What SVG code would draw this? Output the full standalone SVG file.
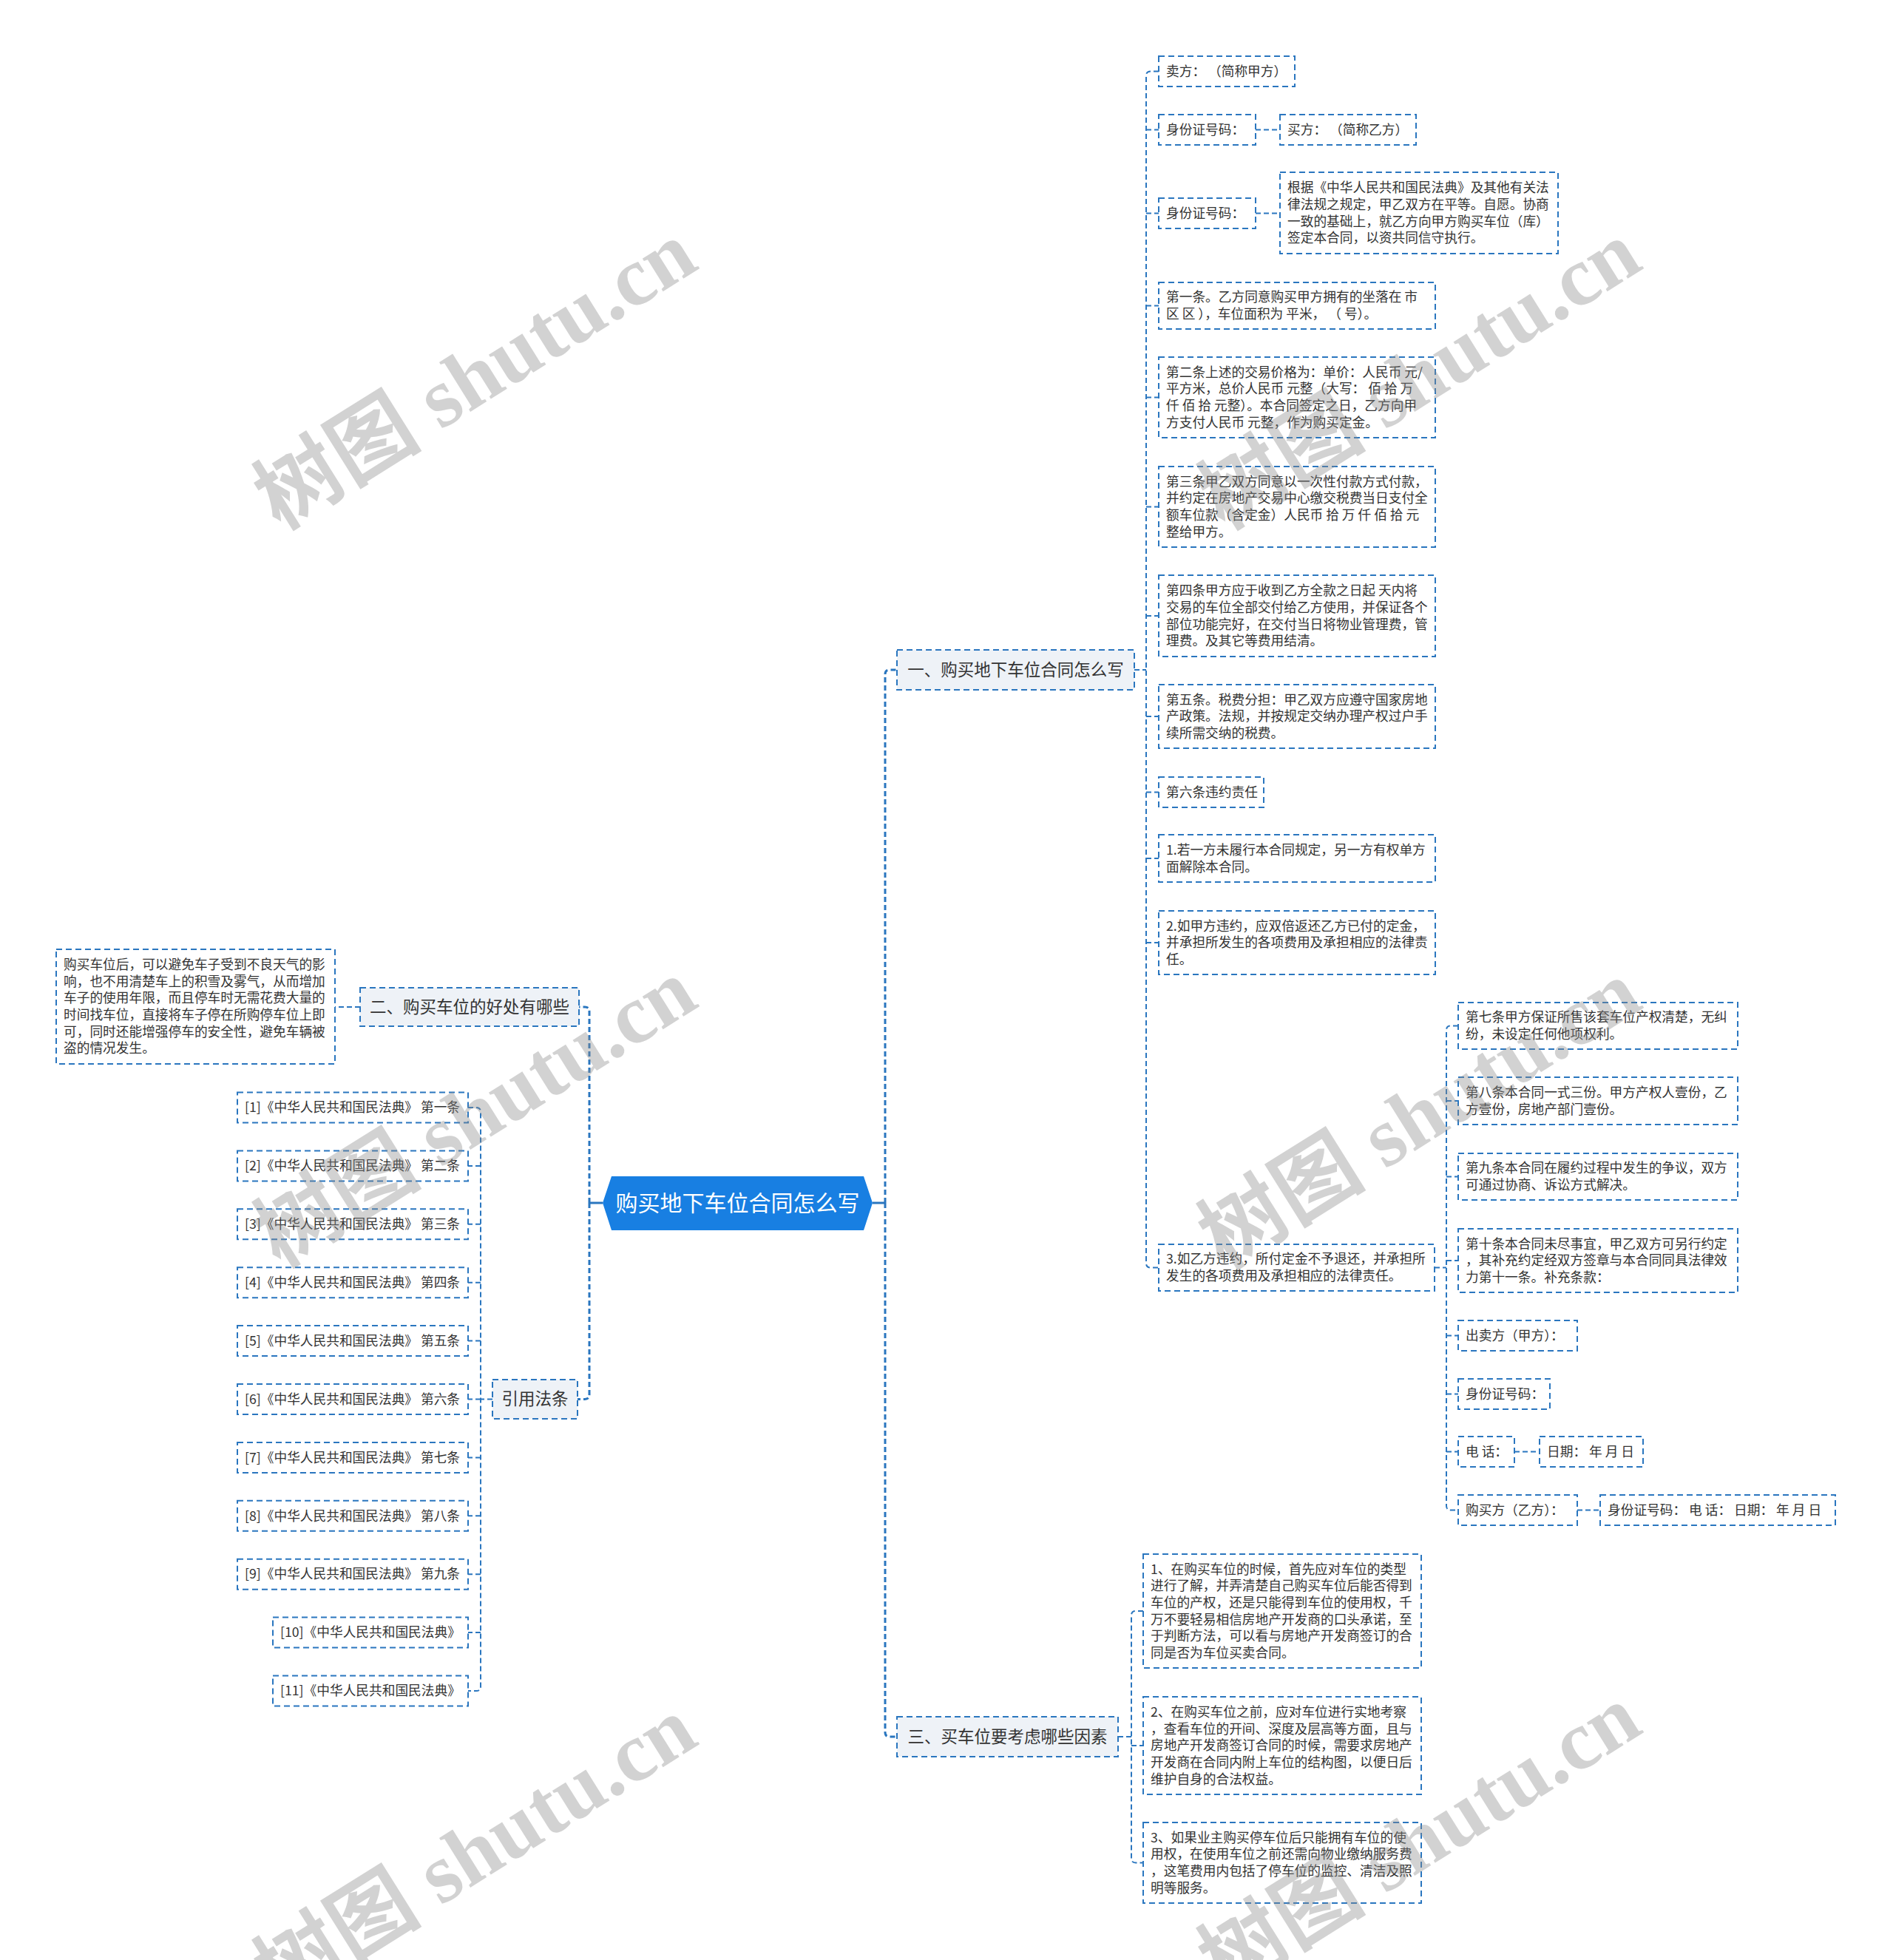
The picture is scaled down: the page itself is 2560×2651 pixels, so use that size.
<svg xmlns="http://www.w3.org/2000/svg" width="2560" height="2651" viewBox="0 0 2560 2651">
<style>
.bx{fill:#fff;stroke:#2a76bf;stroke-width:2;stroke-dasharray:8 5}
.l1{fill:#eef2f7;stroke:#2a76bf;stroke-width:2;stroke-dasharray:8 5}
.t{font-family:"Noto Sans CJK SC","Microsoft YaHei",sans-serif;font-size:17.7px;fill:#333}
.t1{font-family:"Noto Sans CJK SC","Microsoft YaHei",sans-serif;font-size:22.5px;fill:#333;text-anchor:middle}
.c{fill:none;stroke:#2a76bf;stroke-width:2;stroke-dasharray:7 4}
.m{fill:none;stroke:#2a76bf;stroke-width:3;stroke-dasharray:7 4}
.ms{fill:none;stroke:#2a76bf;stroke-width:3}
.wm{font-family:"Liberation Serif","Noto Sans CJK SC",serif;font-size:114px;font-weight:bold;fill:#888;fill-opacity:0.38;text-anchor:middle}
</style>
<rect width="2560" height="2651" fill="#fff"/>
<g id="connectors">
<path class="ms" d="M815,1627 H797"/>
<path class="ms" d="M1180,1627 H1197"/>
<path class="m" d="M797,1627 V1368 Q797,1362 791,1362 H783"/>
<path class="m" d="M797,1627 V1886.5 Q797,1892.5 791,1892.5 H781"/>
<path class="m" d="M1197,1627 V912 Q1197,906 1203,906 H1213"/>
<path class="m" d="M1197,1627 V2343 Q1197,2349 1203,2349 H1213"/>
<path class="c" d="M1534,906 H1550"/>
<path class="c" d="M1567,96.5 H1556 Q1550,96.5 1550,102.5 V1708.5 Q1550,1714.5 1556,1714.5 H1566"/>
<path class="c" d="M1550,175.5 H1567 M1550,288.5 H1567 M1550,413.5 H1567 M1550,537.5 H1567 M1550,685.5 H1567 M1550,833 H1567 M1550,969 H1567 M1550,1071.5 H1567 M1550,1161 H1567 M1550,1275 H1567"/>
<path class="c" d="M1698,175.5 H1731 M1698,288.5 H1731"/>
<path class="c" d="M1940,1714.5 H1956"/>
<path class="c" d="M1972,1387.5 H1962 Q1956,1387.5 1956,1393.5 V2036.5 Q1956,2042.5 1962,2042.5 H1972"/>
<path class="c" d="M1956,1489 H1972 M1956,1591.5 H1972 M1956,1705 H1972 M1956,1806.5 H1972 M1956,1885.5 H1972 M1956,1963.5 H1972"/>
<path class="c" d="M2048,1963.5 H2082 M2133,2042.5 H2164"/>
<path class="c" d="M1512,2349 H1530"/>
<path class="c" d="M1546,2179 H1536 Q1530,2179 1530,2185 V2513.5 Q1530,2519.5 1536,2519.5 H1546"/>
<path class="c" d="M1530,2361 H1546"/>
<path class="c" d="M487,1362 H453"/>
<path class="c" d="M666,1892.5 H650"/>
<path class="c" d="M633,1498 H644 Q650,1498 650,1504 V2281 Q650,2287 644,2287 H633"/>
<path class="c" d="M650,1576.9 H633 M650,1655.8 H633 M650,1734.7 H633 M650,1813.6 H633 M650,1892.5 H633 M650,1971.4 H633 M650,2050.3 H633 M650,2129.2 H633 M650,2208.1 H633"/>
</g>
<g id="root">
<polygon points="815,1627 827,1591 1168,1591 1180,1627 1168,1664 827,1664" fill="#187fe2"/>
<text x="997.5" y="1638" font-family="Noto Sans CJK SC, sans-serif" font-size="30" fill="#fff" text-anchor="middle">购买地下车位合同怎么写</text>
</g>
<g id="n1">
<rect class="l1" x="1213" y="879" width="321" height="54"/>
<text class="t1" x="1373.5" y="913.9">一、购买地下车位合同怎么写</text>
</g>
<g id="n1-1"><rect class="bx" x="1567" y="76" width="184" height="41"/><text class="t" x="1577" y="102.7">卖方： （简称甲方）</text></g>
<g id="n1-2"><rect class="bx" x="1567" y="155" width="131" height="41"/><text class="t" x="1577" y="181.7">身份证号码：</text></g>
<g id="n1-2-1"><rect class="bx" x="1731" y="155" width="184" height="41"/><text class="t" x="1741" y="181.7">买方： （简称乙方）</text></g>
<g id="n1-3"><rect class="bx" x="1567" y="268" width="131" height="41"/><text class="t" x="1577" y="294.7">身份证号码：</text></g>
<g id="n1-3-1"><rect class="bx" x="1731" y="233" width="376" height="110"/><text class="t" x="1741" y="260.2"><tspan x="1741">根据《中华人民共和国民法典》及其他有关法</tspan><tspan x="1741" dy="22.65">律法规之规定，甲乙双方在平等。自愿。协商</tspan><tspan x="1741" dy="22.65">一致的基础上，就乙方向甲方购买车位（库）</tspan><tspan x="1741" dy="22.65">签定本合同，以资共同信守执行。</tspan></text></g>
<g id="n1-4"><rect class="bx" x="1567" y="382" width="374" height="63"/><text class="t" x="1577" y="408.4"><tspan x="1577">第一条。乙方同意购买甲方拥有的坐落在 市</tspan><tspan x="1577" dy="22.65">区 区 ），车位面积为 平米， （ 号）。</tspan></text></g>
<g id="n1-5"><rect class="bx" x="1567" y="483" width="374" height="109"/><text class="t" x="1577" y="509.7"><tspan x="1577">第二条上述的交易价格为：单价：人民币 元/</tspan><tspan x="1577" dy="22.65">平方米，总价人民币 元整（大写： 佰 拾 万</tspan><tspan x="1577" dy="22.65">仟 佰 拾 元整）。本合同签定之日，乙方向甲</tspan><tspan x="1577" dy="22.65">方支付人民币 元整，作为购买定金。</tspan></text></g>
<g id="n1-6"><rect class="bx" x="1567" y="631" width="374" height="109"/><text class="t" x="1577" y="657.7"><tspan x="1577">第三条甲乙双方同意以一次性付款方式付款，</tspan><tspan x="1577" dy="22.65">并约定在房地产交易中心缴交税费当日支付全</tspan><tspan x="1577" dy="22.65">额车位款（含定金）人民币 拾 万 仟 佰 拾 元</tspan><tspan x="1577" dy="22.65">整给甲方。</tspan></text></g>
<g id="n1-7"><rect class="bx" x="1567" y="778" width="374" height="110"/><text class="t" x="1577" y="805.2"><tspan x="1577">第四条甲方应于收到乙方全款之日起 天内将</tspan><tspan x="1577" dy="22.65">交易的车位全部交付给乙方使用，并保证各个</tspan><tspan x="1577" dy="22.65">部位功能完好，在交付当日将物业管理费，管</tspan><tspan x="1577" dy="22.65">理费。及其它等费用结清。</tspan></text></g>
<g id="n1-8"><rect class="bx" x="1567" y="926" width="374" height="86"/><text class="t" x="1577" y="952.55"><tspan x="1577">第五条。税费分担：甲乙双方应遵守国家房地</tspan><tspan x="1577" dy="22.65">产政策。法规，并按规定交纳办理产权过户手</tspan><tspan x="1577" dy="22.65">续所需交纳的税费。</tspan></text></g>
<g id="n1-9"><rect class="bx" x="1567" y="1051" width="142" height="41"/><text class="t" x="1577" y="1077.7">第六条违约责任</text></g>
<g id="n1-10"><rect class="bx" x="1567" y="1129" width="374" height="64"/><text class="t" x="1577" y="1155.9"><tspan x="1577">1.若一方未履行本合同规定，另一方有权单方</tspan><tspan x="1577" dy="22.65">面解除本合同。</tspan></text></g>
<g id="n1-11"><rect class="bx" x="1567" y="1232" width="374" height="86"/><text class="t" x="1577" y="1258.55"><tspan x="1577">2.如甲方违约，应双倍返还乙方已付的定金，</tspan><tspan x="1577" dy="22.65">并承担所发生的各项费用及承担相应的法律责</tspan><tspan x="1577" dy="22.65">任。</tspan></text></g>
<g id="n1-12"><rect class="bx" x="1567" y="1683" width="373" height="63"/><text class="t" x="1577" y="1709.4"><tspan x="1577">3.如乙方违约，所付定金不予退还，并承担所</tspan><tspan x="1577" dy="22.65">发生的各项费用及承担相应的法律责任。</tspan></text></g>
<g id="n1-12-1"><rect class="bx" x="1972" y="1356" width="378" height="63"/><text class="t" x="1982" y="1382.4"><tspan x="1982">第七条甲方保证所售该套车位产权清楚，无纠</tspan><tspan x="1982" dy="22.65">纷，未设定任何他项权利。</tspan></text></g>
<g id="n1-12-2"><rect class="bx" x="1972" y="1457" width="378" height="64"/><text class="t" x="1982" y="1483.9"><tspan x="1982">第八条本合同一式三份。甲方产权人壹份，乙</tspan><tspan x="1982" dy="22.65">方壹份，房地产部门壹份。</tspan></text></g>
<g id="n1-12-3"><rect class="bx" x="1972" y="1560" width="378" height="63"/><text class="t" x="1982" y="1586.4"><tspan x="1982">第九条本合同在履约过程中发生的争议，双方</tspan><tspan x="1982" dy="22.65">可通过协商、诉讼方式解决。</tspan></text></g>
<g id="n1-12-4"><rect class="bx" x="1972" y="1662" width="378" height="86"/><text class="t" x="1982" y="1688.55"><tspan x="1982">第十条本合同未尽事宜，甲乙双方可另行约定</tspan><tspan x="1982" dy="22.65">，其补充约定经双方签章与本合同同具法律效</tspan><tspan x="1982" dy="22.65">力第十一条。补充条款：</tspan></text></g>
<g id="n1-12-5"><rect class="bx" x="1972" y="1786" width="161" height="41"/><text class="t" x="1982" y="1812.7">出卖方（甲方）：</text></g>
<g id="n1-12-6"><rect class="bx" x="1972" y="1865" width="124" height="41"/><text class="t" x="1982" y="1891.7">身份证号码：</text></g>
<g id="n1-12-7"><rect class="bx" x="1972" y="1943" width="76" height="41"/><text class="t" x="1982" y="1969.7">电 话：</text></g>
<g id="n1-12-7-1"><rect class="bx" x="2082" y="1943" width="140" height="41"/><text class="t" x="2092" y="1969.7">日期： 年 月 日</text></g>
<g id="n1-12-8"><rect class="bx" x="1972" y="2022" width="161" height="41"/><text class="t" x="1982" y="2048.7">购买方（乙方）：</text></g>
<g id="n1-12-8-1"><rect class="bx" x="2164" y="2022" width="318" height="41"/><text class="t" x="2174" y="2048.7">身份证号码： 电 话： 日期： 年 月 日</text></g>
<g id="n3">
<rect class="l1" x="1213" y="2322" width="299" height="54"/>
<text class="t1" x="1362.5" y="2356.9">三、买车位要考虑哪些因素</text>
</g>
<g id="n3-1"><rect class="bx" x="1546" y="2102" width="376" height="154"/><text class="t" x="1556" y="2128.6"><tspan x="1556">1、在购买车位的时候，首先应对车位的类型</tspan><tspan x="1556" dy="22.65">进行了解，并弄清楚自己购买车位后能否得到</tspan><tspan x="1556" dy="22.65">车位的产权，还是只能得到车位的使用权，千</tspan><tspan x="1556" dy="22.65">万不要轻易相信房地产开发商的口头承诺，至</tspan><tspan x="1556" dy="22.65">于判断方法，可以看与房地产开发商签订的合</tspan><tspan x="1556" dy="22.65">同是否为车位买卖合同。</tspan></text></g>
<g id="n3-2"><rect class="bx" x="1546" y="2295" width="376" height="132"/><text class="t" x="1556" y="2321.9"><tspan x="1556">2、在购买车位之前，应对车位进行实地考察</tspan><tspan x="1556" dy="22.65">，查看车位的开间、深度及层高等方面，且与</tspan><tspan x="1556" dy="22.65">房地产开发商签订合同的时候，需要求房地产</tspan><tspan x="1556" dy="22.65">开发商在合同内附上车位的结构图，以便日后</tspan><tspan x="1556" dy="22.65">维护自身的合法权益。</tspan></text></g>
<g id="n3-3"><rect class="bx" x="1546" y="2465" width="376" height="109"/><text class="t" x="1556" y="2491.7"><tspan x="1556">3、如果业主购买停车位后只能拥有车位的使</tspan><tspan x="1556" dy="22.65">用权，在使用车位之前还需向物业缴纳服务费</tspan><tspan x="1556" dy="22.65">，这笔费用内包括了停车位的监控、清洁及照</tspan><tspan x="1556" dy="22.65">明等服务。</tspan></text></g>
<g id="n2">
<rect class="l1" x="487" y="1336" width="296" height="52"/>
<text class="t1" x="635" y="1369.9">二、购买车位的好处有哪些</text>
</g>
<g id="n2-1"><rect class="bx" x="76" y="1284" width="377" height="155"/><text class="t" x="86" y="1311.1"><tspan x="86">购买车位后，可以避免车子受到不良天气的影</tspan><tspan x="86" dy="22.65">响，也不用清楚车上的积雪及雾气，从而增加</tspan><tspan x="86" dy="22.65">车子的使用年限，而且停车时无需花费大量的</tspan><tspan x="86" dy="22.65">时间找车位，直接将车子停在所购停车位上即</tspan><tspan x="86" dy="22.65">可，同时还能增强停车的安全性，避免车辆被</tspan><tspan x="86" dy="22.65">盗的情况发生。</tspan></text></g>
<g id="n4">
<rect class="l1" x="666" y="1866" width="115" height="53"/>
<text class="t1" x="723.5" y="1900.4">引用法条</text>
</g>
<g id="n4-1"><rect class="bx" x="321" y="1477.5" width="312" height="41"/><text class="t" x="331" y="1504.2">[1]《中华人民共和国民法典》 第一条</text></g>
<g id="n4-2"><rect class="bx" x="321" y="1556.4" width="312" height="41"/><text class="t" x="331" y="1583.1">[2]《中华人民共和国民法典》 第二条</text></g>
<g id="n4-3"><rect class="bx" x="321" y="1635.3" width="312" height="41"/><text class="t" x="331" y="1662">[3]《中华人民共和国民法典》 第三条</text></g>
<g id="n4-4"><rect class="bx" x="321" y="1714.2" width="312" height="41"/><text class="t" x="331" y="1740.9">[4]《中华人民共和国民法典》 第四条</text></g>
<g id="n4-5"><rect class="bx" x="321" y="1793.1" width="312" height="41"/><text class="t" x="331" y="1819.8">[5]《中华人民共和国民法典》 第五条</text></g>
<g id="n4-6"><rect class="bx" x="321" y="1872" width="312" height="41"/><text class="t" x="331" y="1898.7">[6]《中华人民共和国民法典》 第六条</text></g>
<g id="n4-7"><rect class="bx" x="321" y="1950.9" width="312" height="41"/><text class="t" x="331" y="1977.6">[7]《中华人民共和国民法典》 第七条</text></g>
<g id="n4-8"><rect class="bx" x="321" y="2029.8" width="312" height="41"/><text class="t" x="331" y="2056.5">[8]《中华人民共和国民法典》 第八条</text></g>
<g id="n4-9"><rect class="bx" x="321" y="2108.7" width="312" height="41"/><text class="t" x="331" y="2135.4">[9]《中华人民共和国民法典》 第九条</text></g>
<g id="n4-10"><rect class="bx" x="369" y="2187.6" width="264" height="41"/><text class="t" x="379" y="2214.3">[10]《中华人民共和国民法典》</text></g>
<g id="n4-11"><rect class="bx" x="369" y="2266.5" width="264" height="41"/><text class="t" x="379" y="2293.2">[11]《中华人民共和国民法典》</text></g>
<g id="watermarks">
<text class="wm" transform="translate(663,540) rotate(-32)">树图 shutu.cn</text>
<text class="wm" transform="translate(1940,540) rotate(-32)">树图 shutu.cn</text>
<text class="wm" transform="translate(663,1538) rotate(-32)">树图 shutu.cn</text>
<text class="wm" transform="translate(1940,1540) rotate(-32)">树图 shutu.cn</text>
<text class="wm" transform="translate(663,2536) rotate(-32)">树图 shutu.cn</text>
<text class="wm" transform="translate(1940,2520) rotate(-32)">树图 shutu.cn</text>
</g>
</svg>
